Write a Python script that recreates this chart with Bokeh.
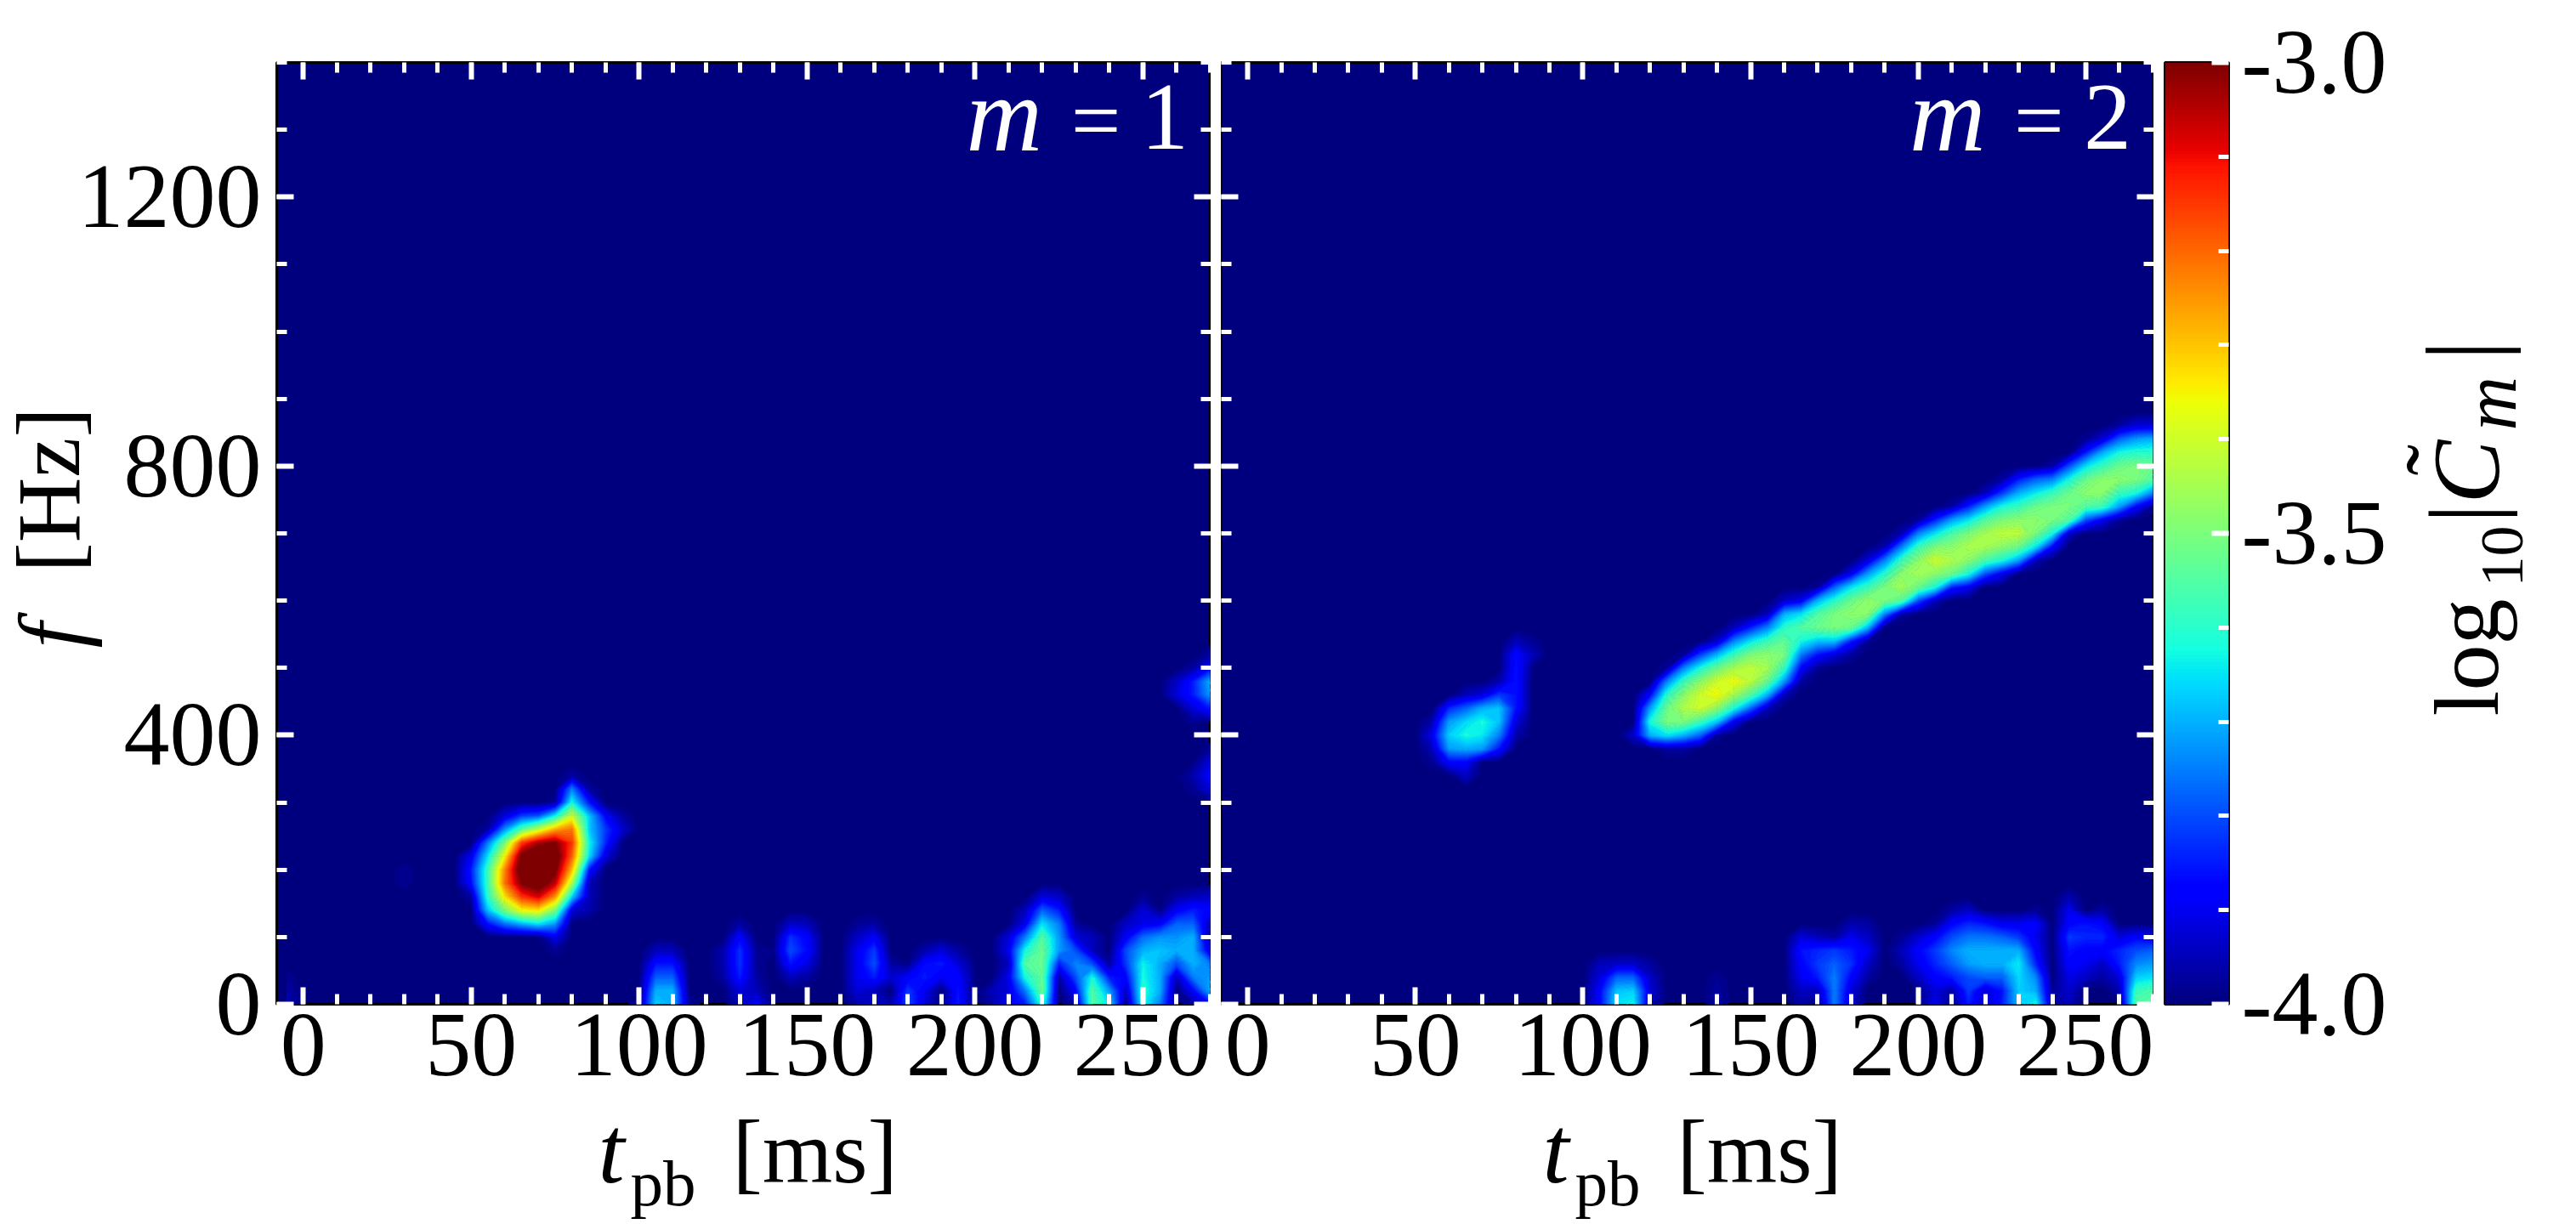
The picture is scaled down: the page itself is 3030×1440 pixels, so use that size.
import math
import numpy as np

from bokeh.embed import file_html
from bokeh.layouts import column, row
from bokeh.models import FixedTicker, Label, LinearAxis, LinearColorMapper, Range1d
from bokeh.plotting import figure
from bokeh.resources import INLINE

# spectrogram cells
# one entry = (t_pb, lowest f, [values going up in f, 20 Hz apart]), value = (log10|C|+4)*100
t_grid = np.arange(-5, 275, 5)
f_grid = np.arange(0, 1420, 20)

m1_blob = [
    (50, 160, [3, 13, 15, 10]),
    (55, 120, [14, 32, 40, 42, 42, 35, 25, 3]),
    (60, 120, [24, 50, 66, 78, 76, 64, 50, 27, 8]),
    (65, 120, [30, 64, 85, 100, 106, 102, 84, 45, 18]),
    (70, 120, [35, 66, 92, 106, 112, 110, 96, 58, 20]),
    (75, 80, [2, 10, 28, 50, 75, 94, 102, 106, 100, 72, 36, 2]),
    (80, 140, [8, 33, 55, 70, 80, 85, 78, 60, 38, 25, 3]),
    (85, 140, [4, 5, 5, 15, 35, 38, 33, 33, 15, 3]),
    (90, 220, [8, 16, 18, 12]),
    (95, 240, [1, 7, 3]),
]
m1_low = [
    (-5, 0, [5, 4, 2]),
    (30, 180, [2, 2]),
    (100, 0, [3]),
    (105, 0, [33, 30, 22, 14, 5]),
    (110, 0, [30, 30, 22, 14, 5]),
    (115, 0, [3]),
    (125, 40, [3, 4, 4]),
    (130, 0, [5, 8, 15, 17, 17, 12, 3]),
    (135, 0, [12, 5, 3, 2, 2]),
    (140, 80, [1]),
    (145, 40, [5, 14, 20, 17, 6]),
    (150, 40, [3, 9, 13, 12, 5]),
    (165, 0, [4, 8, 10, 10, 10, 6, 2]),
    (170, 0, [7, 5, 15, 20, 18, 11, 3]),
    (175, 0, [4, 0, 7, 3]),
    (180, 0, [20, 18, 11, 1]),
    (185, 0, [8, 10, 15, 13, 4]),
    (190, 0, [0, 0, 10, 15, 8]),
    (195, 0, [15, 14, 12, 8, 3]),
    (200, 0, [0, 0, 1, 1]),
    (205, 0, [3, 5]),
    (210, 0, [12, 8, 10, 5, 10, 8]),
    (215, 0, [15, 25, 38, 45, 38, 25, 10, 5]),
    (220, 0, [40, 48, 47, 48, 48, 45, 35, 22, 8]),
    (225, 0, [0, 0, 3, 15, 28, 28, 25, 15, 6]),
    (230, 0, [4, 12, 20, 26, 20, 8, 2]),
    (235, 0, [45, 45, 38, 20, 5, 5]),
    (240, 0, [35, 28, 15, 3]),
    (245, 0, [0, 5, 12, 18, 20, 11, 6]),
    (250, 0, [38, 40, 38, 37, 30, 23, 9, 8, 2]),
    (255, 0, [25, 30, 30, 30, 32, 27, 11, 1]),
    (260, 0, [0, 0, 5, 20, 30, 27, 22, 11, 3]),
    (265, 0, [3, 12, 25, 30, 30, 30, 22, 15, 5]),
    (270, 0, [12, 30, 28, 25, 8, 2, 4, 12, 6]),
]
m1_edge = [
    (260, 460, [8, 6]),
    (265, 320, [2, 4, 1]),
    (265, 420, [2, 8, 15, 15, 3]),
    (270, 320, [8, 12, 8, 2]),
    (270, 440, [15, 28, 30, 12, 3]),
]
m2_blob = [
    (55, 360, [2, 5, 10, 4]),
    (60, 360, [12, 28, 33, 28, 16]),
    (65, 340, [6, 12, 30, 38, 34, 22, 5]),
    (70, 380, [28, 36, 38, 30, 8]),
    (75, 380, [14, 25, 32, 32, 18, 4]),
    (80, 400, [4, 8, 14, 14, 14, 14, 13, 5]),
    (85, 500, [1, 5, 2]),
]
m2_ridge = [
    (115, 400, [6]),
    (120, 400, [30, 38, 28, 12]),
    (125, 380, [3, 35, 50, 48, 40, 25, 2]),
    (130, 380, [3, 30, 50, 56, 52, 42, 25, 2]),
    (135, 400, [22, 42, 60, 60, 52, 38, 18]),
    (140, 400, [2, 32, 52, 65, 60, 48, 30, 6]),
    (145, 420, [10, 38, 55, 64, 55, 42, 25, 5]),
    (150, 440, [22, 45, 58, 58, 50, 35, 15]),
    (155, 440, [5, 30, 48, 55, 52, 42, 25, 5]),
    (160, 460, [5, 28, 42, 50, 47, 40, 30, 6]),
    (165, 480, [3, 12, 25, 38, 45, 35, 10]),
    (170, 500, [2, 14, 32, 48, 45, 30, 2]),
    (175, 520, [8, 32, 50, 50, 40, 22]),
    (180, 520, [3, 15, 48, 52, 48, 35, 10]),
    (185, 540, [2, 30, 52, 53, 42, 28, 8]),
    (190, 580, [25, 50, 50, 40, 25, 4]),
    (195, 580, [3, 45, 55, 52, 42, 25, 4]),
    (200, 600, [20, 48, 55, 52, 42, 25, 2]),
    (205, 600, [5, 38, 52, 60, 50, 35, 15]),
    (210, 620, [15, 48, 56, 52, 44, 28, 3]),
    (215, 620, [10, 38, 52, 56, 50, 35, 15]),
    (220, 640, [20, 44, 55, 55, 45, 28, 5]),
    (225, 640, [10, 38, 52, 58, 50, 38, 18, 3]),
    (230, 660, [28, 48, 58, 52, 42, 30, 15]),
    (235, 660, [5, 35, 50, 52, 48, 36, 22]),
    (240, 680, [12, 38, 50, 50, 42, 25, 3]),
    (245, 700, [6, 45, 50, 48, 38, 20]),
    (250, 720, [20, 45, 52, 48, 35, 15, 2]),
    (255, 720, [10, 42, 52, 52, 42, 30, 8]),
    (260, 720, [2, 28, 42, 52, 48, 38, 22, 3]),
    (265, 740, [12, 38, 50, 50, 40, 28, 8]),
    (270, 740, [2, 25, 45, 48, 40, 30, 8]),
]
m2_low = [
    (105, 0, [12, 12, 8, 5]),
    (110, 0, [35, 32, 22, 6]),
    (115, 0, [37, 33, 22, 6]),
    (120, 0, [5, 8, 6, 3]),
    (140, 0, [3, 3, 2]),
    (165, 0, [3, 6, 10, 12, 14, 8]),
    (170, 0, [0, 5, 15, 18, 16, 5]),
    (175, 0, [25, 25, 25, 22, 18, 3]),
    (180, 0, [6, 8, 12, 17, 15, 10, 4]),
    (185, 40, [3, 6, 10, 6, 3]),
    (195, 60, [3, 5, 2]),
    (200, 20, [1, 6, 10, 12, 7]),
    (205, 0, [10, 8, 12, 16, 18, 12, 2]),
    (210, 0, [0, 3, 15, 22, 26, 20, 12, 3]),
    (215, 0, [15, 18, 20, 28, 30, 24, 16, 6]),
    (220, 0, [5, 7, 22, 30, 30, 24, 14]),
    (225, 0, [15, 14, 22, 30, 30, 22, 10]),
    (230, 0, [32, 33, 34, 36, 30, 18, 10]),
    (235, 0, [38, 30, 26, 16, 12, 10, 12, 2]),
    (240, 0, [3, 2]),
    (245, 0, [5, 7, 9, 12, 14, 18, 12, 10, 4]),
    (250, 40, [6, 10, 12, 16, 14]),
    (255, 40, [3, 6, 12, 16, 12, 3]),
    (260, 20, [4, 8, 15, 16, 8]),
    (265, 0, [45, 42, 33, 26, 20, 12]),
    (270, 0, [47, 44, 35, 28, 22, 10]),
]

x_major = [0, 50, 100, 150, 200, 250]
x_minor = list(range(0, 280, 10))
y_major = [0, 400, 800, 1200]
y_minor = list(range(0, 1500, 100))
cb_major = [-4.0, -3.5, -3.0]
cb_minor = [-3.9, -3.8, -3.7, -3.6, -3.4, -3.3, -3.2, -3.1]
x_labels = {0: "0", 50: "50", 100: "100", 150: "150", 200: "200", 250: "250"}
y_labels = {0: "0", 400: "400", 800: "800", 1200: "1200"}
cb_labels = {-4.0: "-4.0", -3.5: "-3.5", -3.0: "-3.0"}

FONT = "Liberation Serif"
NAVY = "#00007f"
TOP, FRAME_H, BOTTOM = 73, 1108, 136
P1_BORDER = 237
LEFT_STRIP = 124
P1_X = 325 - P1_BORDER
BOTTOM_LAP = 40  # title strips reach over the panels' blank border a little
RIGHT_LAP = 20
N_LEVELS = 90
BASE = 0.35  # Label puts an alphabetic baseline this many em too low


def jet_palette(n=256):
    x = np.linspace(0, 1, n)
    r = np.interp(x, [0, .35, .66, .89, 1], [0, 0, 1, 1, .5])
    g = np.interp(x, [0, .125, .375, .64, .91, 1], [0, 0, 1, 1, 0, 0])
    b = np.interp(x, [0, .11, .34, .65, 1], [.5, 1, 1, 0, 0])
    return ["#%02x%02x%02x" % (int(a * 255), int(c * 255), int(d * 255)) for a, c, d in zip(r, g, b)]


def to_grid(*groups):
    M = np.zeros((len(f_grid), len(t_grid)))
    for runs in groups:
        for t, f0, vals in runs:
            j = (t - t_grid[0]) // 5
            i = f0 // 20
            for k, v in enumerate(vals):
                M[i + k, j] = v
    return -4 + M / 100


jet = jet_palette()
mapper = LinearColorMapper(palette=jet, low=-4, high=-3)
levels = list(np.linspace(-3.99, -3.0, N_LEVELS + 1)) + [-2.5]
mids = [min(1.0, (a + b) / 2 + 4) for a, b in zip(levels[:-1], levels[1:])]
level_colors = [jet[int(m * 255)] for m in mids]
line_colors = level_colors + [level_colors[-1]]


def inner_ticks(ax, major, minor, labels=None, size="108px", standoff=0):
    ax.ticker = FixedTicker(ticks=major, minor_ticks=minor)
    ax.major_tick_in = 20
    ax.major_tick_out = 0
    ax.minor_tick_in = 12
    ax.minor_tick_out = 0
    ax.major_tick_line_color = "white"
    ax.minor_tick_line_color = "white"
    ax.major_tick_line_width = 6
    ax.minor_tick_line_width = 5
    ax.axis_line_color = None
    ax.major_label_standoff = standoff
    ax.major_label_text_font = FONT
    if labels is None:
        ax.major_label_overrides = {m: "" for m in major}
        ax.major_label_text_font_size = "0px"
    else:
        ax.major_label_overrides = labels
        ax.major_label_text_font_size = size
        ax.major_label_text_color = "black"


def panel(M, width, left):
    p = figure(width=width, height=TOP + FRAME_H + BOTTOM, output_backend="svg", toolbar_location=None,
               x_range=Range1d(-7.9, 270.3), y_range=Range1d(0, 1400),
               x_axis_type=None, y_axis_type=None,
               min_border_left=left, min_border_right=0, min_border_top=TOP, min_border_bottom=BOTTOM)
    p.grid.visible = False
    p.background_fill_color = NAVY
    p.border_fill_color = None
    p.outline_line_color = "black"
    p.outline_line_width = 3
    p.contour(t_grid, f_grid, M, levels=levels, fill_color=level_colors, line_color=line_colors, line_width=1)
    for side in ["left", "right"]:
        ax = LinearAxis()
        show = side == "left" and left > 0
        inner_ticks(ax, y_major, y_minor, y_labels if show else None, standoff=18)
        p.add_layout(ax, side)
    for side in ["below", "above"]:
        ax = LinearAxis()
        inner_ticks(ax, x_major, x_minor, x_labels if side == "below" else None, standoff=12)
        p.add_layout(ax, side)
    return p


def strip(x0, x1, y0, y1):
    # blank figure whose data units are page pixels, it only holds axis titles
    s = figure(width=x1 - x0, height=y1 - y0, output_backend="svg", toolbar_location=None,
               x_range=Range1d(x0, x1), y_range=Range1d(y1, y0),
               x_axis_type=None, y_axis_type=None, min_border=0)
    s.grid.visible = False
    s.outline_line_color = None
    s.background_fill_color = None
    s.border_fill_color = None
    return s


def put(p, x, y, text, size, style="normal", color="black", angle=0.0):
    p.add_layout(Label(x=x, y=y, text=text, text_font=FONT, text_font_size="%dpx" % size,
                       text_font_style=style, text_color=color, angle=angle,
                       text_align="left", text_baseline="alphabetic"))


def put_up(p, x, y, text, size, style="normal"):
    put(p, x - BASE * size, y, text, size, style, angle=math.pi / 2)


def put_flat(p, x, y, text, size, style="normal"):
    put(p, x, y - BASE * size, text, size, style)


m1 = to_grid(m1_blob, m1_low, m1_edge)
m2 = to_grid(m2_blob, m2_ridge, m2_low)

p1 = panel(m1, P1_BORDER + 1099, P1_BORDER)
p1.margin = (0, 0, 0, P1_X - LEFT_STRIP)
p2 = panel(m2, 1097, 0)

# m = 1 / m = 2, positions in axis units
for p, n in [(p1, "1"), (p2, "2")]:
    put(p, 197.4, 1322, "m", 124, "italic", "white")
    put(p, 228.6, 1314, "=", 104, "normal", "white")
    put(p, 249.4, 1318, n, 112, "normal", "white")

# colour bar
cb = figure(width=1 + 75 + 190, height=TOP + FRAME_H + BOTTOM, output_backend="svg", toolbar_location=None,
            x_range=Range1d(0, 1), y_range=Range1d(-4, -3),
            x_axis_type=None, y_axis_type=None,
            min_border_left=1, min_border_right=190, min_border_top=TOP, min_border_bottom=BOTTOM)
cb.grid.visible = False
cb.outline_line_color = "black"
cb.outline_line_width = 3
cb.image(image=[np.linspace(-4, -3, 256).reshape(256, 1)], x=0, y=-4, dw=1, dh=1, color_mapper=mapper)
cb_axis = LinearAxis()
inner_ticks(cb_axis, cb_major, cb_minor, cb_labels, standoff=15)
cb.add_layout(cb_axis, "right")

# axis titles
left = strip(0, LEFT_STRIP, 0, 1440)
put_up(left, 98, 762, "f", 108, "italic")
put_up(left, 94, 673, "[Hz]", 106)

bottom = strip(LEFT_STRIP, 2811, TOP + FRAME_H + BOTTOM - BOTTOM_LAP, 1440)
bottom.margin = (-BOTTOM_LAP, 0, 0, 0)
for dx in [0, 1111]:
    put_flat(bottom, 703 + dx, 1392, "t", 112, "italic")
    put_flat(bottom, 741 + dx, 1418, "pb", 77)
    put_flat(bottom, 861 + dx, 1392, "[ms]", 106)

right = strip(2811 - RIGHT_LAP, 3020, 0, 1440)
right.margin = (0, 0, 0, -RIGHT_LAP)
put_up(right, 2939, 842, "log", 108)
put_up(right, 2968, 690, "10", 72)
put_up(right, 2938, 615, "|", 114)
put_up(right, 2940, 592, "C", 112, "italic")
put_up(right, 2906, 559, "\u02dc", 110)
put_up(right, 2960, 506, "m", 88, "italic")
put_up(right, 2940, 424, "|", 122)

panels = row(p1, p2, cb, spacing=12)
page = row(left, column(panels, bottom, spacing=0), right, spacing=0)
open("out.html", "w").write(file_html(page, INLINE))
